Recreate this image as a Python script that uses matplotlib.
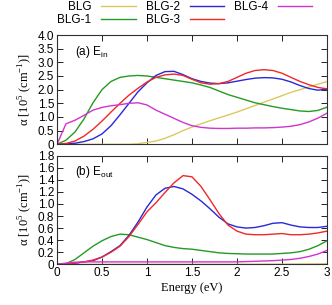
import numpy as np
import matplotlib
matplotlib.use("Agg")
from matplotlib import pyplot as plt

energy = np.round(np.arange(0, 3.01, 0.1), 2)

labels = ["BLG", "BLG-1", "BLG-2", "BLG-3", "BLG-4"]
colors = ["#dcc860", "#259a25", "#2828d8", "#f02828", "#d034d0"]

# (a) E_in
ein_blg = [0, 0, 0, 0, 0, 0, 0, 0, 0, 0.02, 0.07, 0.12, 0.22, 0.35, 0.5, 0.63,
           0.75, 0.86, 0.97, 1.07, 1.18, 1.3, 1.42, 1.54, 1.66, 1.78, 1.9, 2.0,
           2.1, 2.2, 2.3]
ein_blg1 = [0, 0.15, 0.45, 0.93, 1.52, 2.0, 2.3, 2.45, 2.5, 2.52, 2.5, 2.45,
            2.4, 2.35, 2.3, 2.25, 2.17, 2.08, 1.95, 1.82, 1.72, 1.62, 1.52,
            1.45, 1.38, 1.32, 1.27, 1.22, 1.2, 1.24, 1.36]
ein_blg2 = [0, 0.01, 0.04, 0.1, 0.2, 0.38, 0.68, 1.08, 1.5, 1.92, 2.25, 2.52,
            2.66, 2.67, 2.55, 2.4, 2.3, 2.24, 2.22, 2.25, 2.31, 2.37, 2.42,
            2.44, 2.43, 2.38, 2.28, 2.15, 2.04, 1.98, 2.02]
ein_blg3 = [0, 0.03, 0.12, 0.3, 0.55, 0.85, 1.18, 1.5, 1.8, 2.05, 2.28, 2.45,
            2.54, 2.57, 2.52, 2.38, 2.25, 2.2, 2.22, 2.3, 2.45, 2.6, 2.7, 2.73,
            2.7, 2.6, 2.45, 2.3, 2.18, 2.08, 2.03]
ein_blg4 = [0, 0.75, 0.88, 1.06, 1.25, 1.35, 1.41, 1.45, 1.5, 1.52, 1.44, 1.25,
            1.1, 0.95, 0.8, 0.68, 0.62, 0.59, 0.58, 0.58, 0.59, 0.59, 0.6, 0.6,
            0.61, 0.63, 0.66, 0.72, 0.82, 0.96, 1.14]

# (b) E_out
eout_blg = [0] * 22 + [0.001, 0.002, 0.002, 0.003, 0.004, 0.005, 0.006,
                       0.008, 0.01]
eout_blg1 = [0, 0.01, 0.08, 0.19, 0.3, 0.39, 0.46, 0.5, 0.49, 0.45, 0.41, 0.36,
             0.31, 0.28, 0.26, 0.25, 0.23, 0.21, 0.19, 0.18, 0.175, 0.17, 0.17,
             0.17, 0.17, 0.18, 0.19, 0.21, 0.25, 0.31, 0.39]
eout_blg2 = [0, 0.005, 0.02, 0.04, 0.06, 0.12, 0.21, 0.31, 0.48, 0.7, 0.95,
             1.15, 1.26, 1.29, 1.25, 1.16, 1.05, 0.92, 0.78, 0.67, 0.62, 0.6,
             0.61, 0.64, 0.68, 0.69, 0.65, 0.62, 0.61, 0.61, 0.63]
eout_blg3 = [0, 0.005, 0.02, 0.04, 0.07, 0.12, 0.2, 0.3, 0.46, 0.66, 0.87, 1.02,
             1.19, 1.35, 1.47, 1.45, 1.29, 1.07, 0.84, 0.65, 0.55, 0.5, 0.49,
             0.49, 0.5, 0.51, 0.49, 0.49, 0.5, 0.52, 0.55]
eout_blg4 = [0, 0.02, 0.035, 0.04, 0.04, 0.04, 0.04, 0.04, 0.04, 0.04, 0.04,
             0.04, 0.04, 0.04, 0.04, 0.04, 0.04, 0.04, 0.04, 0.04, 0.04, 0.045,
             0.05, 0.055, 0.06, 0.07, 0.08, 0.1, 0.13, 0.17, 0.23]

plt.rcParams["font.family"] = ["Liberation Sans", "DejaVu Sans"]
plt.rcParams["font.size"] = 8.5
plt.rcParams["mathtext.fontset"] = "custom"
plt.rcParams["mathtext.rm"] = "Liberation Serif"
plt.rcParams["mathtext.sf"] = "Liberation Sans"

fig = plt.figure(figsize=(3.32, 3.05), dpi=100)
W, H = 332.0, 305.0
ax1 = fig.add_axes([57 / W, 1 - 144.3 / H, 270 / W, 109.3 / H])
ax2 = fig.add_axes([57 / W, 1 - 264.3 / H, 270 / W, 108.6 / H])

handles = []
for ys, c, lab in zip([ein_blg, ein_blg1, ein_blg2, ein_blg3, ein_blg4],
                      colors, labels):
    l, = ax1.plot(energy, ys, color=c, lw=1.0, label=lab)
    handles.append(l)
for ys, c in zip([eout_blg, eout_blg1, eout_blg2, eout_blg3, eout_blg4],
                 colors):
    ax2.plot(energy, ys, color=c, lw=1.0)

ax1.set_ylim(0, 4.0)
ax1.set_yticks(np.arange(0, 4.01, 0.5))
ax1.set_yticklabels(["0"] + ["%.1f" % v for v in np.arange(0.5, 4.01, 0.5)])
ax2.set_ylim(0, 1.8)
ax2.set_yticks(np.arange(0, 1.81, 0.2))
ax2.set_yticklabels(["0"] + ["%.1f" % v for v in np.arange(0.2, 1.81, 0.2)])

for ax in (ax1, ax2):
    ax.set_xlim(0, 3)
    ax.set_xticks(np.arange(0, 3.01, 0.5))
    ax.tick_params(direction="in", top=True, right=True, length=4,
                   width=0.6, pad=2, labelsize=8.5)
    for s in ax.spines.values():
        s.set_linewidth(0.8)
        s.set_color("#303030")
    ax.set_ylabel(r"α [10$^{\mathrm{5}}$ (cm$^{\mathrm{-1}}$)]",
                  family="Liberation Serif", fontsize=9, labelpad=3)

ax1.set_xticklabels([])
ax2.set_xticklabels(["0", "0.5", "1", "1.5", "2", "2.5", "3"])
ax2.set_xlabel("Energy (eV)", family="Liberation Serif", fontsize=9, labelpad=2)

ax1.text(0.065, 0.82, r"(a) E$_{\mathsf{in}}$", transform=ax1.transAxes,
         fontsize=8.5)
ax2.text(0.065, 0.82, r"(b) E$_{\mathsf{out}}$", transform=ax2.transAxes,
         fontsize=8.5)

fig.legend(handles=handles, labels=labels, ncol=3, loc="upper left",
           bbox_to_anchor=(56 / W, 1.0), frameon=False, markerfirst=False,
           handlelength=2.9, handletextpad=0.85, columnspacing=0.85,
           labelspacing=0.1, borderpad=0.1, borderaxespad=0, fontsize=8.5)

fig.savefig("out.png", dpi=100)
